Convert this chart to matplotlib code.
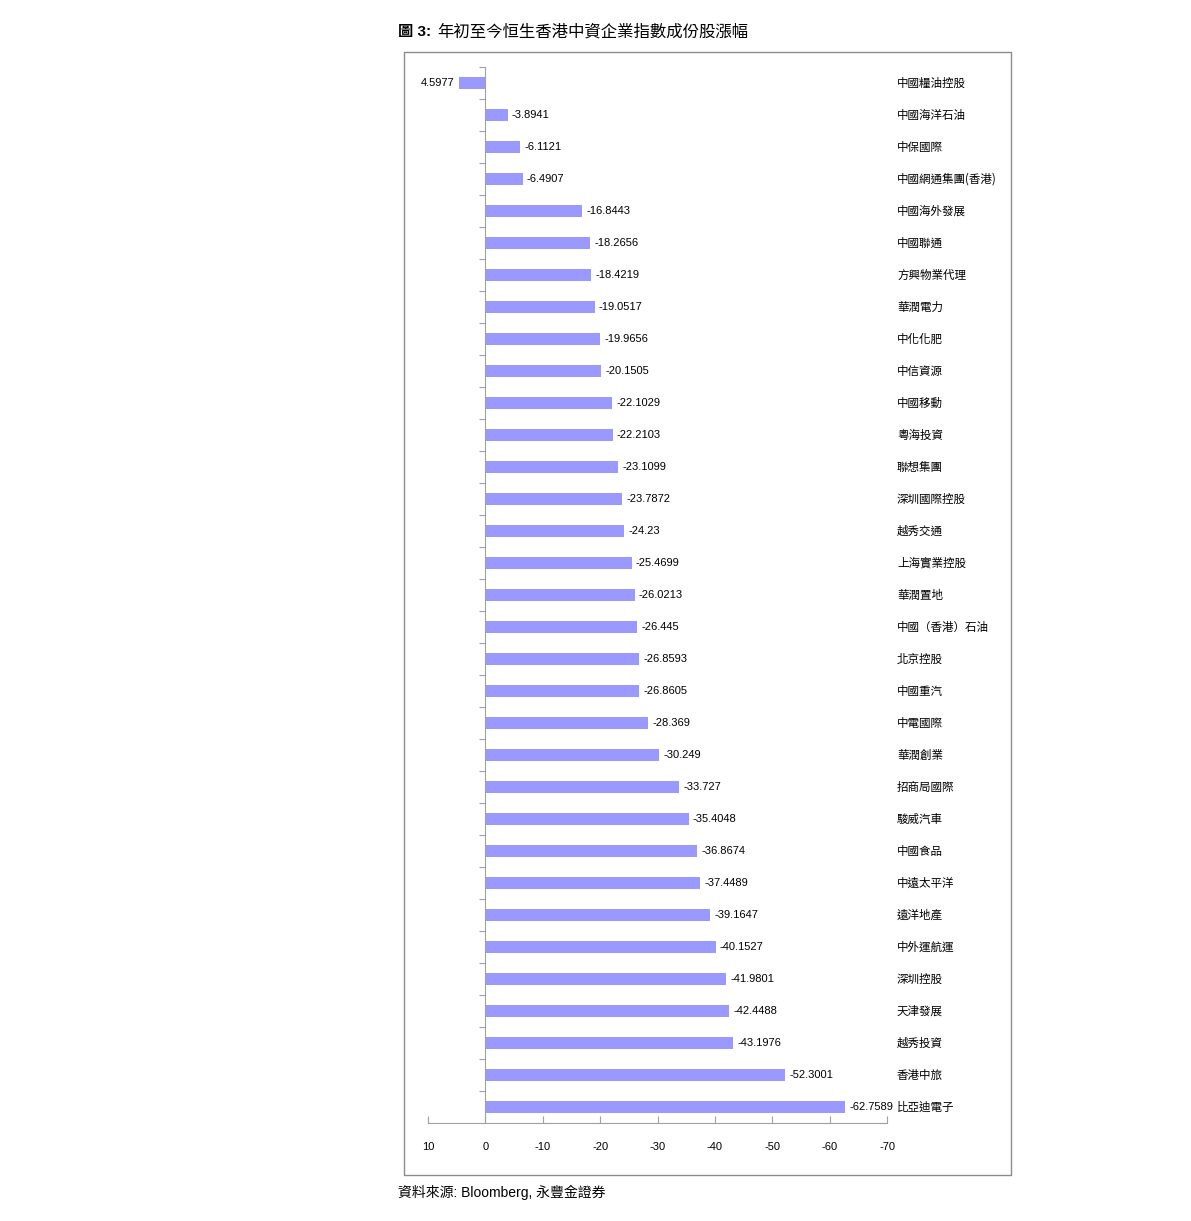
import matplotlib.pyplot as plt
from matplotlib.patches import Rectangle
from matplotlib.transforms import blended_transform_factory

plt.rcParams['font.family'] = ['Liberation Sans', 'Noto Sans CJK TC', 'DejaVu Sans']

# 成份股名稱與年初至今漲幅 (%)
stocks = ['中國糧油控股', '中國海洋石油', '中保國際', '中國網通集團(香港)', '中國海外發展',
          '中國聯通', '方興物業代理', '華潤電力', '中化化肥', '中信資源', '中國移動',
          '粵海投資', '聯想集團', '深圳國際控股', '越秀交通', '上海實業控股', '華潤置地',
          '中國（香港）石油', '北京控股', '中國重汽', '中電國際', '華潤創業', '招商局國際',
          '駿威汽車', '中國食品', '中遠太平洋', '遠洋地產', '中外運航運', '深圳控股',
          '天津發展', '越秀投資', '香港中旅', '比亞迪電子']
changes = [4.5977, -3.8941, -6.1121, -6.4907, -16.8443, -18.2656, -18.4219, -19.0517,
           -19.9656, -20.1505, -22.1029, -22.2103, -23.1099, -23.7872, -24.23, -25.4699,
           -26.0213, -26.445, -26.8593, -26.8605, -28.369, -30.249, -33.727, -35.4048,
           -36.8674, -37.4489, -39.1647, -40.1527, -41.9801, -42.4488, -43.1976,
           -52.3001, -62.7589]
change_labels = ['4.5977', '-3.8941', '-6.1121', '-6.4907', '-16.8443', '-18.2656', '-18.4219',
                 '-19.0517', '-19.9656', '-20.1505', '-22.1029', '-22.2103', '-23.1099',
                 '-23.7872', '-24.23', '-25.4699', '-26.0213', '-26.445', '-26.8593',
                 '-26.8605', '-28.369', '-30.249', '-33.727', '-35.4048', '-36.8674',
                 '-37.4489', '-39.1647', '-40.1527', '-41.9801', '-42.4488', '-43.1976',
                 '-52.3001', '-62.7589']
xticks = [10, 0, -10, -20, -30, -40, -50, -60, -70]

W, H = 1191, 1221
fig = plt.figure(figsize=(W / 100, H / 100), dpi=100)
ax = fig.add_axes([428 / W, 1 - 1123 / H, (887 - 428) / W, (1123 - 67) / H])

n = len(stocks)
pos = list(range(n))
ax.barh(pos, changes, height=0.4, color='#9999ff', zorder=2)
ax.set_xlim(10, -70)
ax.set_ylim(n - 0.5, -0.5)

# 數值標籤
for p, v, lab in zip(pos, changes, change_labels):
    if v >= 0:
        ax.annotate(lab, (v, p), xytext=(-3, 0), textcoords='offset points',
                    ha='right', va='center', fontsize=8)
    else:
        ax.annotate(lab, (v, p), xytext=(3, 0), textcoords='offset points',
                    ha='left', va='center', fontsize=8)

# 右側名稱
tr = blended_transform_factory(fig.transFigure, ax.transData)
for p, name in zip(pos, stocks):
    ax.text(897 / W, p, name, transform=tr, ha='left', va='center', fontsize=8.3,
            family=['Noto Sans CJK TC', 'DejaVu Sans'])

for s in ['top', 'right']:
    ax.spines[s].set_visible(False)
ax.spines['left'].set_position(('data', 0))
ax.spines['left'].set_color('#a0a0a0')
ax.spines['bottom'].set_color('#a0a0a0')

ax.set_xticks(xticks)
ax.set_xticklabels([str(t) for t in xticks])
ax.tick_params(axis='x', direction='in', length=5, color='#a0a0a0', pad=14, labelsize=8)
ax.set_yticks([p + 0.5 for p in pos[:-1]] + [-0.5])
ax.set_yticklabels([])
ax.tick_params(axis='y', direction='out', length=4, color='#a0a0a0')

# 外框
fig.patches.append(Rectangle((404 / W, 1 - 1175 / H), (1011 - 404) / W, (1175 - 52) / H,
                             transform=fig.transFigure, fill=False, edgecolor='#8c8c8c',
                             linewidth=1))

fig.text(398 / W, 1 - 32 / H, '圖 3:', fontsize=11, fontweight='bold', va='center',
         family=['Liberation Sans', 'Noto Sans CJK TC'])
fig.text(437 / W, 1 - 32 / H, '年初至今恒生香港中資企業指數成份股漲幅', fontsize=11.8,
         va='center', family=['Noto Sans CJK TC', 'DejaVu Sans'])
fig.text(398 / W, 1 - 1192 / H, '資料來源: Bloomberg, 永豐金證券', fontsize=10, va='center')

fig.savefig('out.png', dpi=100)
